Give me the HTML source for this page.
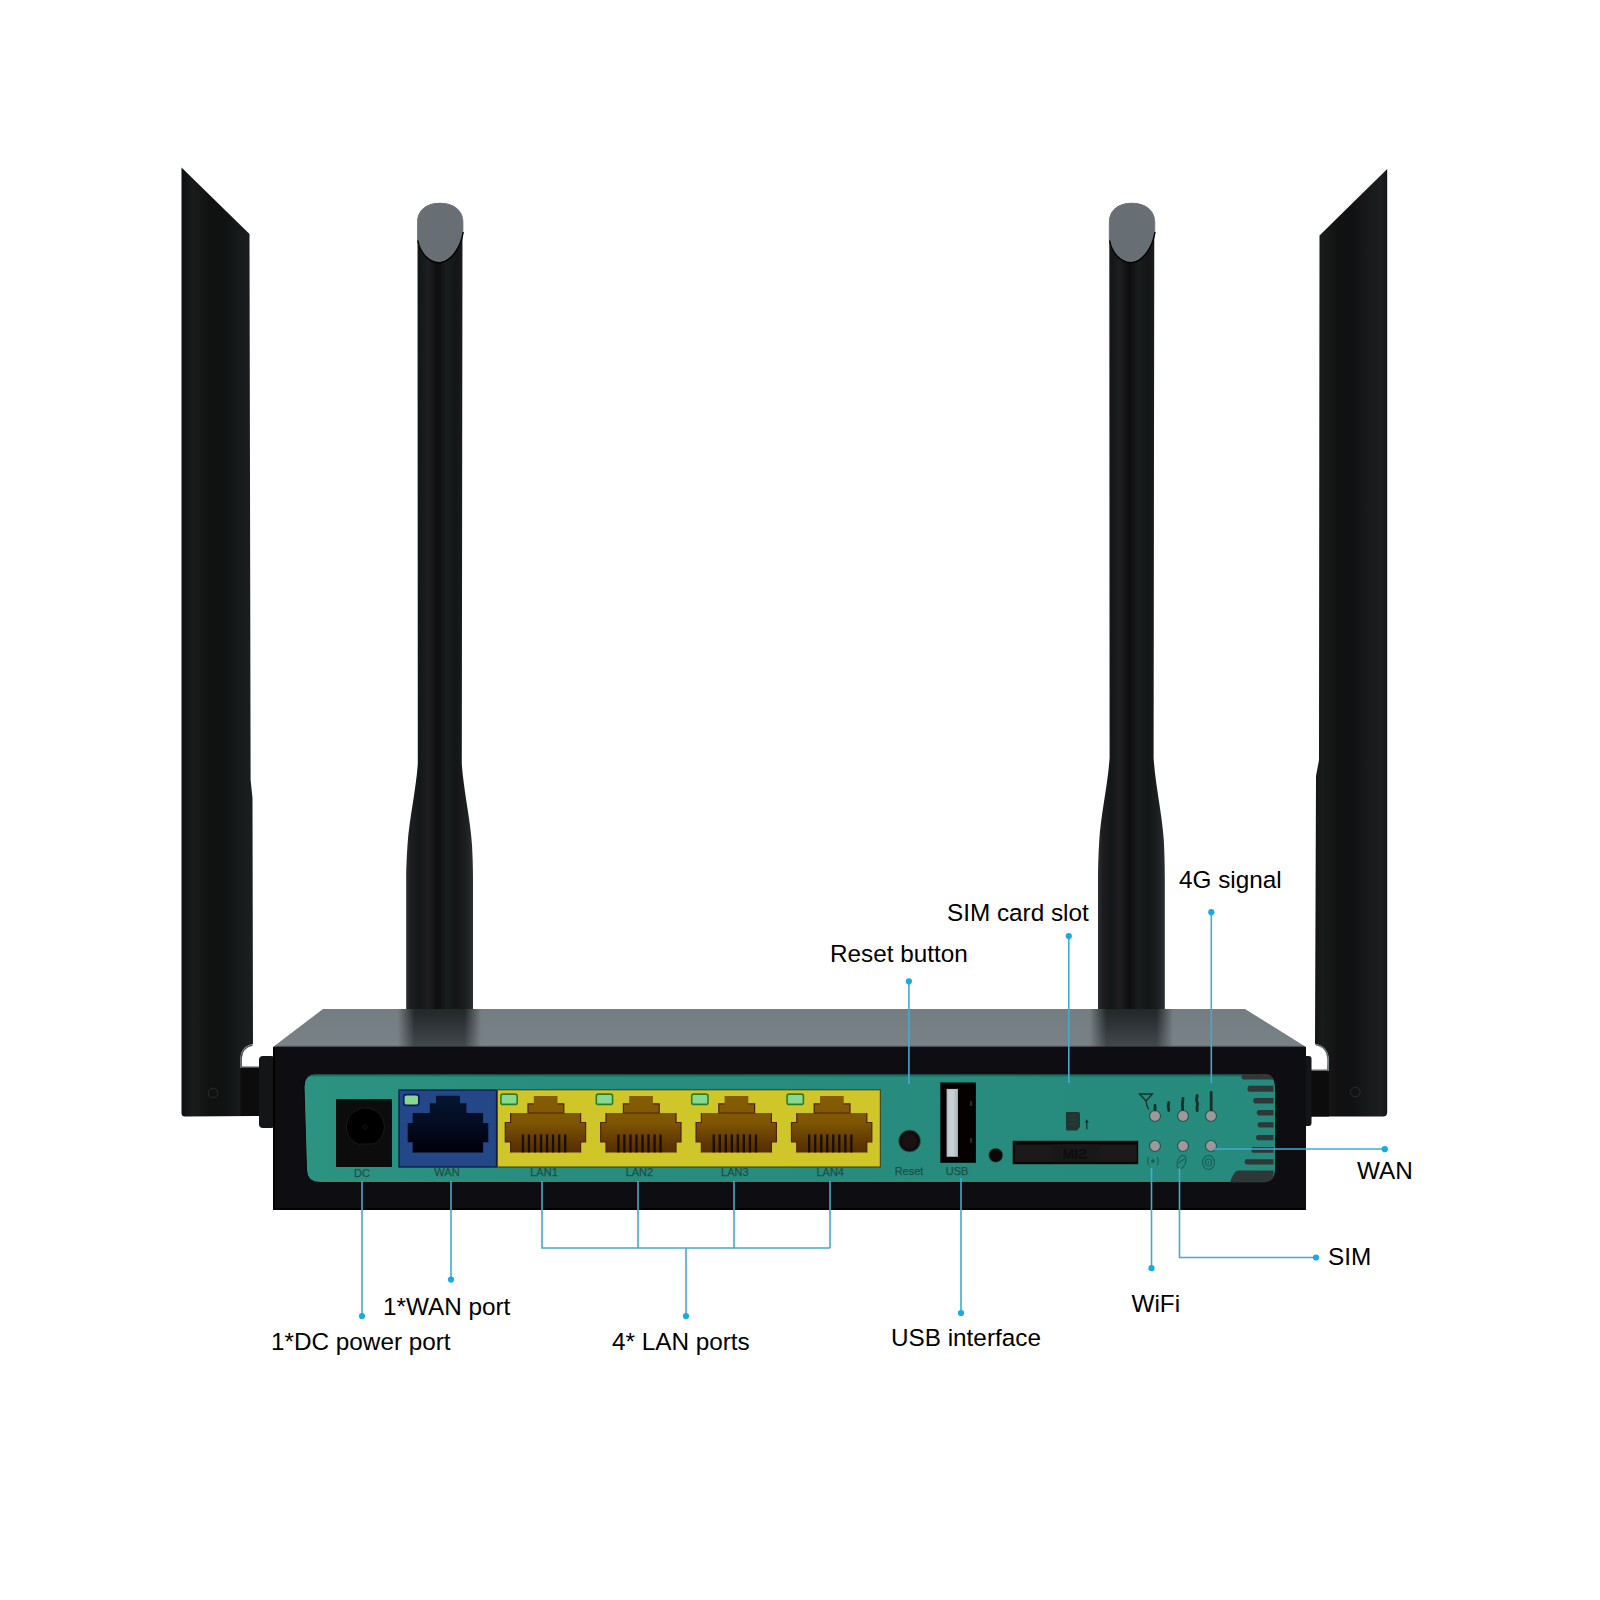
<!DOCTYPE html>
<html><head><meta charset="utf-8"><title>4G LTE Router</title>
<style>
html,body{margin:0;padding:0;background:#fff;}
body{width:1600px;height:1600px;overflow:hidden;position:relative;font-family:"Liberation Sans",sans-serif;}
svg{position:absolute;left:0;top:0;display:block;}
.lbl{font-family:"Liberation Sans",sans-serif;font-size:24.3px;fill:#000;}
.sm{font-family:"Liberation Sans",sans-serif;font-size:11px;fill:#1f4f47;stroke:#1f4f47;stroke-width:0.25px;}
</style></head>
<body>
<svg width="1600" height="1600" viewBox="0 0 1600 1600">
<defs>
  <linearGradient id="antO" x1="0" x2="1" y1="0" y2="0">
    <stop offset="0" stop-color="#0c0f10"/>
    <stop offset="0.15" stop-color="#1a1c1c"/>
    <stop offset="0.35" stop-color="#111111"/>
    <stop offset="0.55" stop-color="#101112"/>
    <stop offset="0.75" stop-color="#171a1b"/>
    <stop offset="0.93" stop-color="#1c1e1f"/>
    <stop offset="1" stop-color="#141414"/>
  </linearGradient>
  <linearGradient id="antI" x1="0" x2="1" y1="0" y2="0">
    <stop offset="0" stop-color="#2a2e30"/>
    <stop offset="0.07" stop-color="#1d1d21"/>
    <stop offset="0.2" stop-color="#131716"/>
    <stop offset="0.33" stop-color="#1e1e21"/>
    <stop offset="0.47" stop-color="#0d0d0d"/>
    <stop offset="0.6" stop-color="#181d1d"/>
    <stop offset="0.75" stop-color="#151515"/>
    <stop offset="0.9" stop-color="#1c2020"/>
    <stop offset="1" stop-color="#2b2f2f"/>
  </linearGradient>
  <linearGradient id="topS" x1="0" x2="0" y1="0" y2="1">
    <stop offset="0" stop-color="#737d82"/>
    <stop offset="0.9" stop-color="#778186"/>
    <stop offset="0.95" stop-color="#7b858a"/>
    <stop offset="1" stop-color="#3a3f42"/>
  </linearGradient>
  <linearGradient id="teal" x1="0" x2="1" y1="0" y2="0">
    <stop offset="0" stop-color="#2c9381"/>
    <stop offset="0.25" stop-color="#288d7e"/>
    <stop offset="1" stop-color="#268a7c"/>
  </linearGradient>
  <linearGradient id="rjY" x1="0" x2="0" y1="0" y2="1">
    <stop offset="0" stop-color="#855d04"/>
    <stop offset="0.45" stop-color="#7f5702"/>
    <stop offset="0.8" stop-color="#633a02"/>
    <stop offset="1" stop-color="#552d02"/>
  </linearGradient>
  <g id="rj">
    <rect x="500.9" y="1094.1" width="16.3" height="10.3" rx="2" fill="#86d98e" stroke="#2f7d22" stroke-width="1.6"/>
    <path d="M533.8,1095.9 L557.5,1095.9 L557.5,1103.8 L563.8,1103.8 L563.8,1113 L580.6,1113 L580.6,1122.5 L585.6,1122.5 L585.6,1142 L580.6,1142 L580.6,1152.5 L510.6,1152.5 L510.6,1142 L505.3,1142 L505.3,1122.5 L510.6,1122.5 L510.6,1113 L528,1113 L528,1103.8 L533.8,1103.8 Z" fill="url(#rjY)"/>
    <path d="M533.8,1103.8 L528,1103.8 L528,1113 L563.8,1113 L563.8,1103.8 L557.5,1103.8 M580.6,1113 L580.6,1122.5 L585.6,1122.5 L585.6,1142 L580.6,1142 L580.6,1152.5 M510.6,1152.5 L510.6,1142 L505.3,1142 L505.3,1122.5 L510.6,1122.5 L510.6,1113" fill="none" stroke="#4e2204" stroke-width="1.2"/>
    <g fill="#1a0d02">
      <rect x="521.8" y="1134.4" width="2.3" height="18"/><rect x="527.8" y="1134.4" width="2.3" height="18"/>
      <rect x="533.9" y="1134.4" width="2.3" height="18"/><rect x="539.9" y="1134.4" width="2.3" height="18"/>
      <rect x="545.9" y="1134.4" width="2.3" height="18"/><rect x="551.9" y="1134.4" width="2.3" height="18"/>
      <rect x="558.0" y="1134.4" width="2.3" height="18"/><rect x="564.0" y="1134.4" width="2.3" height="18"/>
    </g>
  </g>
  <clipPath id="pclip"><path d="M317,1073.5 L1262,1073.5 Q1275.5,1073.5 1275.5,1087 L1275.5,1170 Q1275.5,1182.5 1262,1182.5 L320,1182.5 Q307,1182.5 306.5,1170 L304,1087 Q304,1073.5 317,1073.5 Z"/></clipPath>
  <linearGradient id="rjB" x1="0" x2="0" y1="0" y2="1">
    <stop offset="0" stop-color="#061530"/>
    <stop offset="0.5" stop-color="#030c22"/>
    <stop offset="1" stop-color="#000008"/>
  </linearGradient>
  <linearGradient id="antShadow" x1="0" x2="0" y1="0" y2="1">
    <stop offset="0" stop-color="#111416" stop-opacity="0.95"/>
    <stop offset="1" stop-color="#111416" stop-opacity="0.25"/>
  </linearGradient>
  <clipPath id="topclip"><path d="M323,1009 L1245,1009 L1306,1047 L274,1047 Z"/></clipPath>
  <linearGradient id="shH" x1="0" x2="1" y1="0" y2="0">
    <stop offset="0" stop-color="#1b1f21" stop-opacity="0"/>
    <stop offset="0.2" stop-color="#1b1f21" stop-opacity="0.92"/>
    <stop offset="0.8" stop-color="#1b1f21" stop-opacity="0.92"/>
    <stop offset="1" stop-color="#1b1f21" stop-opacity="0"/>
  </linearGradient>
  <linearGradient id="vfg" x1="0" x2="0" y1="0" y2="1">
    <stop offset="0" stop-color="#fff"/>
    <stop offset="1" stop-color="#fff" stop-opacity="0.62"/>
  </linearGradient>
  <mask id="vfade" maskUnits="userSpaceOnUse" x="0" y="1000" width="1600" height="60"><rect x="0" y="1009" width="1600" height="38" fill="url(#vfg)"/></mask>
  <linearGradient id="tshade" x1="0" x2="0" y1="0" y2="1">
    <stop offset="0" stop-color="#0b1614" stop-opacity="0.95"/>
    <stop offset="1" stop-color="#1d5f53" stop-opacity="0"/>
  </linearGradient>
</defs>

<!-- ============ ANTENNAS ============ -->
<!-- left outer -->
<path d="M181.5,167.5 L249.5,234 L250.6,780 L252.5,798 L253,1044 Q241,1046 240.5,1058 L240.5,1068 L259,1068 L259,1116 L185,1116.5 Q181.5,1116.5 181.5,1113 Z" fill="url(#antO)"/>
<path d="M252.5,1045 Q242,1047 241.2,1058 L241.2,1067.2 L259,1067.2" fill="none" stroke="#4a4f53" stroke-width="1.4"/>
<circle cx="213" cy="1093" r="4.8" fill="none" stroke="#2a2c2e" stroke-width="1"/>
<!-- right outer -->
<path d="M1387.2,169 L1319.5,235.5 L1319,760 L1316,776 L1315,1043.7 Q1328.5,1046 1328.8,1060 L1328.5,1071 L1310.5,1071 L1310.5,1116.5 L1383,1116.5 Q1387.2,1116.5 1387.2,1112 Z" fill="url(#antO)"/>
<path d="M1315.5,1044.5 Q1327.8,1046.5 1328,1060 L1327.8,1070.3 L1310.5,1070.3" fill="none" stroke="#5d6368" stroke-width="1.4"/>
<circle cx="1355.3" cy="1092" r="4.8" fill="none" stroke="#2a2c2e" stroke-width="1"/>
<!-- left inner -->
<path d="M417.5,222 C417.5,210 427,203 440,203 C453,203 462.5,210 462.5,222 L461.8,764 C463.5,790 470.5,820 472,845 C472.8,860 473,870 473,880 L473,1012 L406.2,1012 L406.2,880 C406.2,870 406.5,860 407.5,845 C409,820 416,790 417.8,764 Z" fill="url(#antI)"/>
<path d="M417.5,222 C417.5,210 427,203.2 440,203.2 C453,203.2 463,210 463,222 L463,231 C461,245 452,260 440,261.5 C428,262 419,250 417.5,240 Z" fill="#676e74" stroke="#7b8287" stroke-width="0.8"/>
<path d="M417.8,240.5 C419.5,251 428,263 440,262.8 C452,261.5 461,246 463.2,232" fill="none" stroke="#050505" stroke-width="1.5"/>
<!-- right inner -->
<g transform="translate(691.8,0)">
<path d="M417.5,222 C417.5,210 427,203 440,203 C453,203 462.5,210 462.5,222 L461.8,758 C463.5,785 470.5,815 472,840 C472.8,855 473,868 473,880 L473,1012 L406.2,1012 L406.2,880 C406.2,868 406.5,855 407.5,840 C409,815 416,785 417.8,758 Z" fill="url(#antI)"/>
<path d="M417.5,222 C417.5,210 427,203.2 440,203.2 C453,203.2 463,210 463,222 L463,231 C461,245 452,260 440,261.5 C428,262 419,250 417.5,240 Z" fill="#676e74" stroke="#7b8287" stroke-width="0.8"/>
<path d="M417.8,240.5 C419.5,251 428,263 440,262.8 C452,261.5 461,246 463.2,232" fill="none" stroke="#050505" stroke-width="1.5"/>
</g>

<!-- hinges -->
<rect x="240.5" y="1068" width="19" height="48" fill="#0c0c0c"/>
<rect x="259" y="1056" width="16" height="72" rx="4" fill="#141516"/>
<rect x="1310.5" y="1071" width="18.5" height="45.5" fill="#0c0c0c"/>
<rect x="1303" y="1056" width="8.5" height="70" rx="3" fill="#141516"/>

<!-- ============ ROUTER BODY ============ -->
<path d="M323,1009 L1245,1009 L1306,1047 L273,1047 Z" fill="url(#topS)"/>
<g clip-path="url(#topclip)" mask="url(#vfade)">
<rect x="398" y="1009" width="83" height="38" fill="url(#shH)"/>
<rect x="1090" y="1009" width="83" height="38" fill="url(#shH)"/>
</g>
<rect x="273" y="1047" width="1033" height="163" fill="#0e0e12"/>
<path d="M274,1047 L274,1209 L1306,1209" fill="none" stroke="#020203" stroke-width="2"/>

<!-- teal panel -->
<path d="M317,1073.5 L1262,1073.5 Q1275.5,1073.5 1275.5,1087 L1275.5,1170 Q1275.5,1182.5 1262,1182.5 L320,1182.5 Q307,1182.5 306.5,1170 L304,1087 Q304,1073.5 317,1073.5 Z" fill="url(#teal)" stroke="#040606" stroke-width="1"/>

<rect x="300" y="1073" width="980" height="4.5" fill="url(#tshade)" clip-path="url(#pclip)"/>
<!-- DC jack -->
<rect x="336" y="1099" width="56" height="68" fill="#0c0c0c"/>
<path d="M357.5,1144.2 A19,19 0 1 1 374,1143.8 Z" fill="#000" stroke="#1a1a1a" stroke-width="1"/>
<circle cx="365" cy="1127" r="2" fill="none" stroke="#1a1a1a" stroke-width="0.8"/>
<text class="sm" x="362" y="1176.5" text-anchor="middle">DC</text>

<!-- WAN port -->
<rect x="399" y="1090" width="97.5" height="77" fill="#244788" stroke="#0b1440" stroke-width="1.2"/>
<rect x="403.8" y="1094.6" width="15" height="10.8" rx="2.5" fill="#86d98e" stroke="#0c1a6a" stroke-width="1.6"/>
<path d="M436,1095.7 L460,1095.7 L460,1103.2 L466.5,1103.2 L466.5,1113 L483.1,1113 L483.1,1123 L488.3,1123 L488.3,1142.2 L483.1,1142.2 L483.1,1152.6 L412.6,1152.6 L412.6,1142.2 L407.7,1142.2 L407.7,1123 L412.6,1123 L412.6,1113 L429.8,1113 L429.8,1103.2 L436,1103.2 Z" fill="url(#rjB)"/>
<text class="sm" x="447" y="1176" text-anchor="middle">WAN</text>

<!-- LAN yellow -->
<rect x="497.3" y="1089.8" width="383" height="77.2" fill="#cfc62a" stroke="#3b3a10" stroke-width="1"/>
<use href="#rj" transform="translate(0.0,0)"/>
<text class="sm" x="544.0" y="1176" text-anchor="middle">LAN1</text>
<use href="#rj" transform="translate(95.4,0)"/>
<text class="sm" x="639.4" y="1176" text-anchor="middle">LAN2</text>
<use href="#rj" transform="translate(190.8,0)"/>
<text class="sm" x="734.8" y="1176" text-anchor="middle">LAN3</text>
<use href="#rj" transform="translate(286.2,0)"/>
<text class="sm" x="830.2" y="1176" text-anchor="middle">LAN4</text>


<!-- Reset -->
<circle cx="909.6" cy="1141" r="11" fill="#120c0c" stroke="#1f6b5d" stroke-width="0.8"/>
<circle cx="909.6" cy="1141" r="7" fill="#1a1212"/>
<text class="sm" x="909" y="1175" text-anchor="middle">Reset</text>

<!-- USB -->
<rect x="940.3" y="1082.5" width="35.6" height="80.3" fill="#050101"/>
<rect x="946.6" y="1088.9" width="11.3" height="67.9" fill="#b5c0c6"/>
<rect x="948.5" y="1090" width="6" height="66" fill="#c8d0d4"/>
<rect x="970" y="1101" width="2.2" height="5" fill="#2a2a2a"/><rect x="970" y="1138" width="2.2" height="5" fill="#2a2a2a"/>
<text class="sm" x="957" y="1175" text-anchor="middle">USB</text>
<circle cx="995.8" cy="1155.3" r="7" fill="#0c0808" stroke="#1f6b5d" stroke-width="0.6"/>

<!-- SIM slot -->
<rect x="1012.7" y="1140.8" width="125.5" height="23.4" fill="#0a0606"/>
<rect x="1015" y="1144.5" width="121.8" height="17.4" fill="#1b1919"/>
<rect x="1052" y="1144.5" width="46.4" height="17.4" fill="#181818"/>
<text x="-1075" y="1159" transform="scale(-1,1)" text-anchor="middle" font-family="Liberation Sans, sans-serif" font-weight="bold" font-size="14" fill="#0d0d0d">SIM</text>

<!-- LEDs -->
<g fill="#a09898" stroke="#1d5a4e" stroke-width="1.2">
<circle cx="1155" cy="1116" r="5.5"/><circle cx="1183" cy="1116" r="5.5"/><circle cx="1211" cy="1116" r="5.5"/>
<circle cx="1155" cy="1146" r="5.5"/><circle cx="1183" cy="1146" r="5.5"/><circle cx="1211" cy="1146" r="5.5"/>
</g>


<!-- signal icon -->
<g stroke="#14302b" fill="none" stroke-linecap="round">
  <path d="M1139.5,1094 L1152.5,1094 L1146,1101 Z M1146,1101 Q1146.5,1106 1148.5,1109" stroke-width="1.3"/>
  <path d="M1155,1105.5 L1155,1110" stroke-width="2.8"/>
  <path d="M1168.8,1102.5 Q1167.6,1106 1168.8,1110.5" stroke-width="2.8"/>
  <path d="M1183,1098.5 Q1182,1104 1182.6,1109.5" stroke-width="2.8"/>
  <path d="M1197.2,1095.5 Q1195.8,1100 1197.6,1104 Q1196.6,1107 1197.2,1110.5" stroke-width="2.8"/>
  <path d="M1211.2,1092.5 L1211.2,1110" stroke-width="2.8"/>
</g>
<!-- bottom status icons -->
<g stroke="#1a5d50" fill="none" stroke-width="1.1">
  <path d="M1148.7,1157 Q1146.6,1161 1148.7,1165 M1157.3,1157 Q1159.4,1161 1157.3,1165"/>
  <circle cx="1153" cy="1161" r="1.3" fill="#1a5d50"/>
  <ellipse cx="1181.5" cy="1162" rx="4" ry="7" transform="rotate(20 1181.5 1162)"/>
  <path d="M1178.5,1163 L1184.5,1159"/>
  <ellipse cx="1208.5" cy="1162.5" rx="6" ry="7"/>
  <ellipse cx="1208.5" cy="1162.5" rx="3" ry="3.5"/>
</g>
<circle cx="1208.5" cy="1162.5" r="0.9" fill="#1a5d50"/>
<!-- sim card icon -->
<path d="M1066,1112 L1078.5,1112 Q1080,1112 1080,1114 L1080,1127 L1077,1130.5 L1067.5,1130.5 Q1066,1130.5 1066,1129 Z" fill="#223531"/>
<path d="M1069,1116 L1076,1116 M1069,1120 L1076,1120 M1069,1124 L1076,1124" fill="none" stroke="#2f4843" stroke-width="0.8"/>
<path d="M1086.8,1129.5 L1086.8,1121" stroke="#1a2e2a" stroke-width="1.2"/>
<path d="M1084.8,1122.5 L1086.8,1119.3 L1088.8,1122.5 Z" fill="#1a2e2a"/>

<!-- grille -->
<g fill="#2f3836" clip-path="url(#pclip)">
<path d="M1243,1074 L1273.5,1074 L1273.5,1079.6 L1243,1079.6 Q1240,1076.8 1243,1074 Z"/>
<path d="M1248.9,1085.7 L1273.5,1085.7 L1273.5,1091.8 L1248.9,1091.8 Q1245.9,1088.75 1248.9,1085.7 Z"/>
<path d="M1254.6,1097.9 L1273.5,1097.9 L1273.5,1103.4 L1254.6,1103.4 Q1251.6,1100.65 1254.6,1097.9 Z"/>
<path d="M1258.2,1110 L1273.5,1110 L1273.5,1115.4 L1258.2,1115.4 Q1255.2,1112.7 1258.2,1110 Z"/>
<path d="M1259,1122.3 L1273.5,1122.3 L1273.5,1127.6 L1259,1127.6 Q1256,1124.9499999999998 1259,1122.3 Z"/>
<path d="M1257.4,1134.9 L1273.5,1134.9 L1273.5,1140.2 L1257.4,1140.2 Q1254.4,1137.5500000000002 1257.4,1134.9 Z"/>
<path d="M1252.6,1147 L1273.5,1147 L1273.5,1152.7 L1252.6,1152.7 Q1249.6,1149.85 1252.6,1147 Z"/>
<path d="M1246,1159.2 L1273.5,1159.2 L1273.5,1164.5 L1246,1164.5 Q1243,1161.85 1246,1159.2 Z"/>
<path d="M1238,1170.6 L1273.5,1170.6 L1273.5,1183 L1230,1183 Q1233,1172 1238,1170.6 Z"/>
</g>

<!-- ============ CALLOUT LINES ============ -->
<g stroke="#47a8d0" stroke-width="1.6" fill="none">
  <path d="M362,1181 L362,1316"/>
  <path d="M451,1181 L451,1280"/>
  <path d="M542,1181 L542,1248 L830,1248 M638,1181 L638,1248 M734,1181 L734,1248 M830,1181 L830,1248 M686,1248 L686,1316"/>
  <path d="M908.9,981 L908.9,1084"/>
  <path d="M1068.8,936 L1068.8,1083"/>
  <path d="M1211.3,912 L1211.3,1083"/>
  <path d="M961,1178 L961,1313"/>
  <path d="M1151.5,1168 L1151.5,1268"/>
  <path d="M1179.5,1168 L1179.5,1257.5 L1316,1257.5"/>
  <path d="M1211,1149 L1385,1149"/>
</g>
<g fill="#16abe6">
  <circle cx="362" cy="1316" r="3.1"/>
  <circle cx="451" cy="1279.6" r="3.1"/>
  <circle cx="686" cy="1316" r="3.1"/>
  <circle cx="908.9" cy="981.3" r="3.1"/>
  <circle cx="1068.8" cy="936" r="3.1"/>
  <circle cx="1211.3" cy="912.2" r="3.1"/>
  <circle cx="961" cy="1313" r="3.1"/>
  <circle cx="1151.5" cy="1268.2" r="3.1"/>
  <circle cx="1316" cy="1257.5" r="3.1"/>
  <circle cx="1384.8" cy="1149.2" r="3.1"/>
</g>

<!-- ============ LABELS ============ -->
<text class="lbl" x="271" y="1350">1*DC power port</text>
<text class="lbl" x="383" y="1315">1*WAN port</text>
<text class="lbl" x="612" y="1350">4* LAN ports</text>
<text class="lbl" x="830" y="962">Reset button</text>
<text class="lbl" x="947" y="921">SIM card slot</text>
<text class="lbl" x="1179" y="888">4G signal</text>
<text class="lbl" x="891" y="1346">USB interface</text>
<text class="lbl" x="1131.5" y="1311.5">WiFi</text>
<text class="lbl" x="1328" y="1265">SIM</text>
<text class="lbl" x="1357" y="1178.5">WAN</text>
</svg>
</body></html>
